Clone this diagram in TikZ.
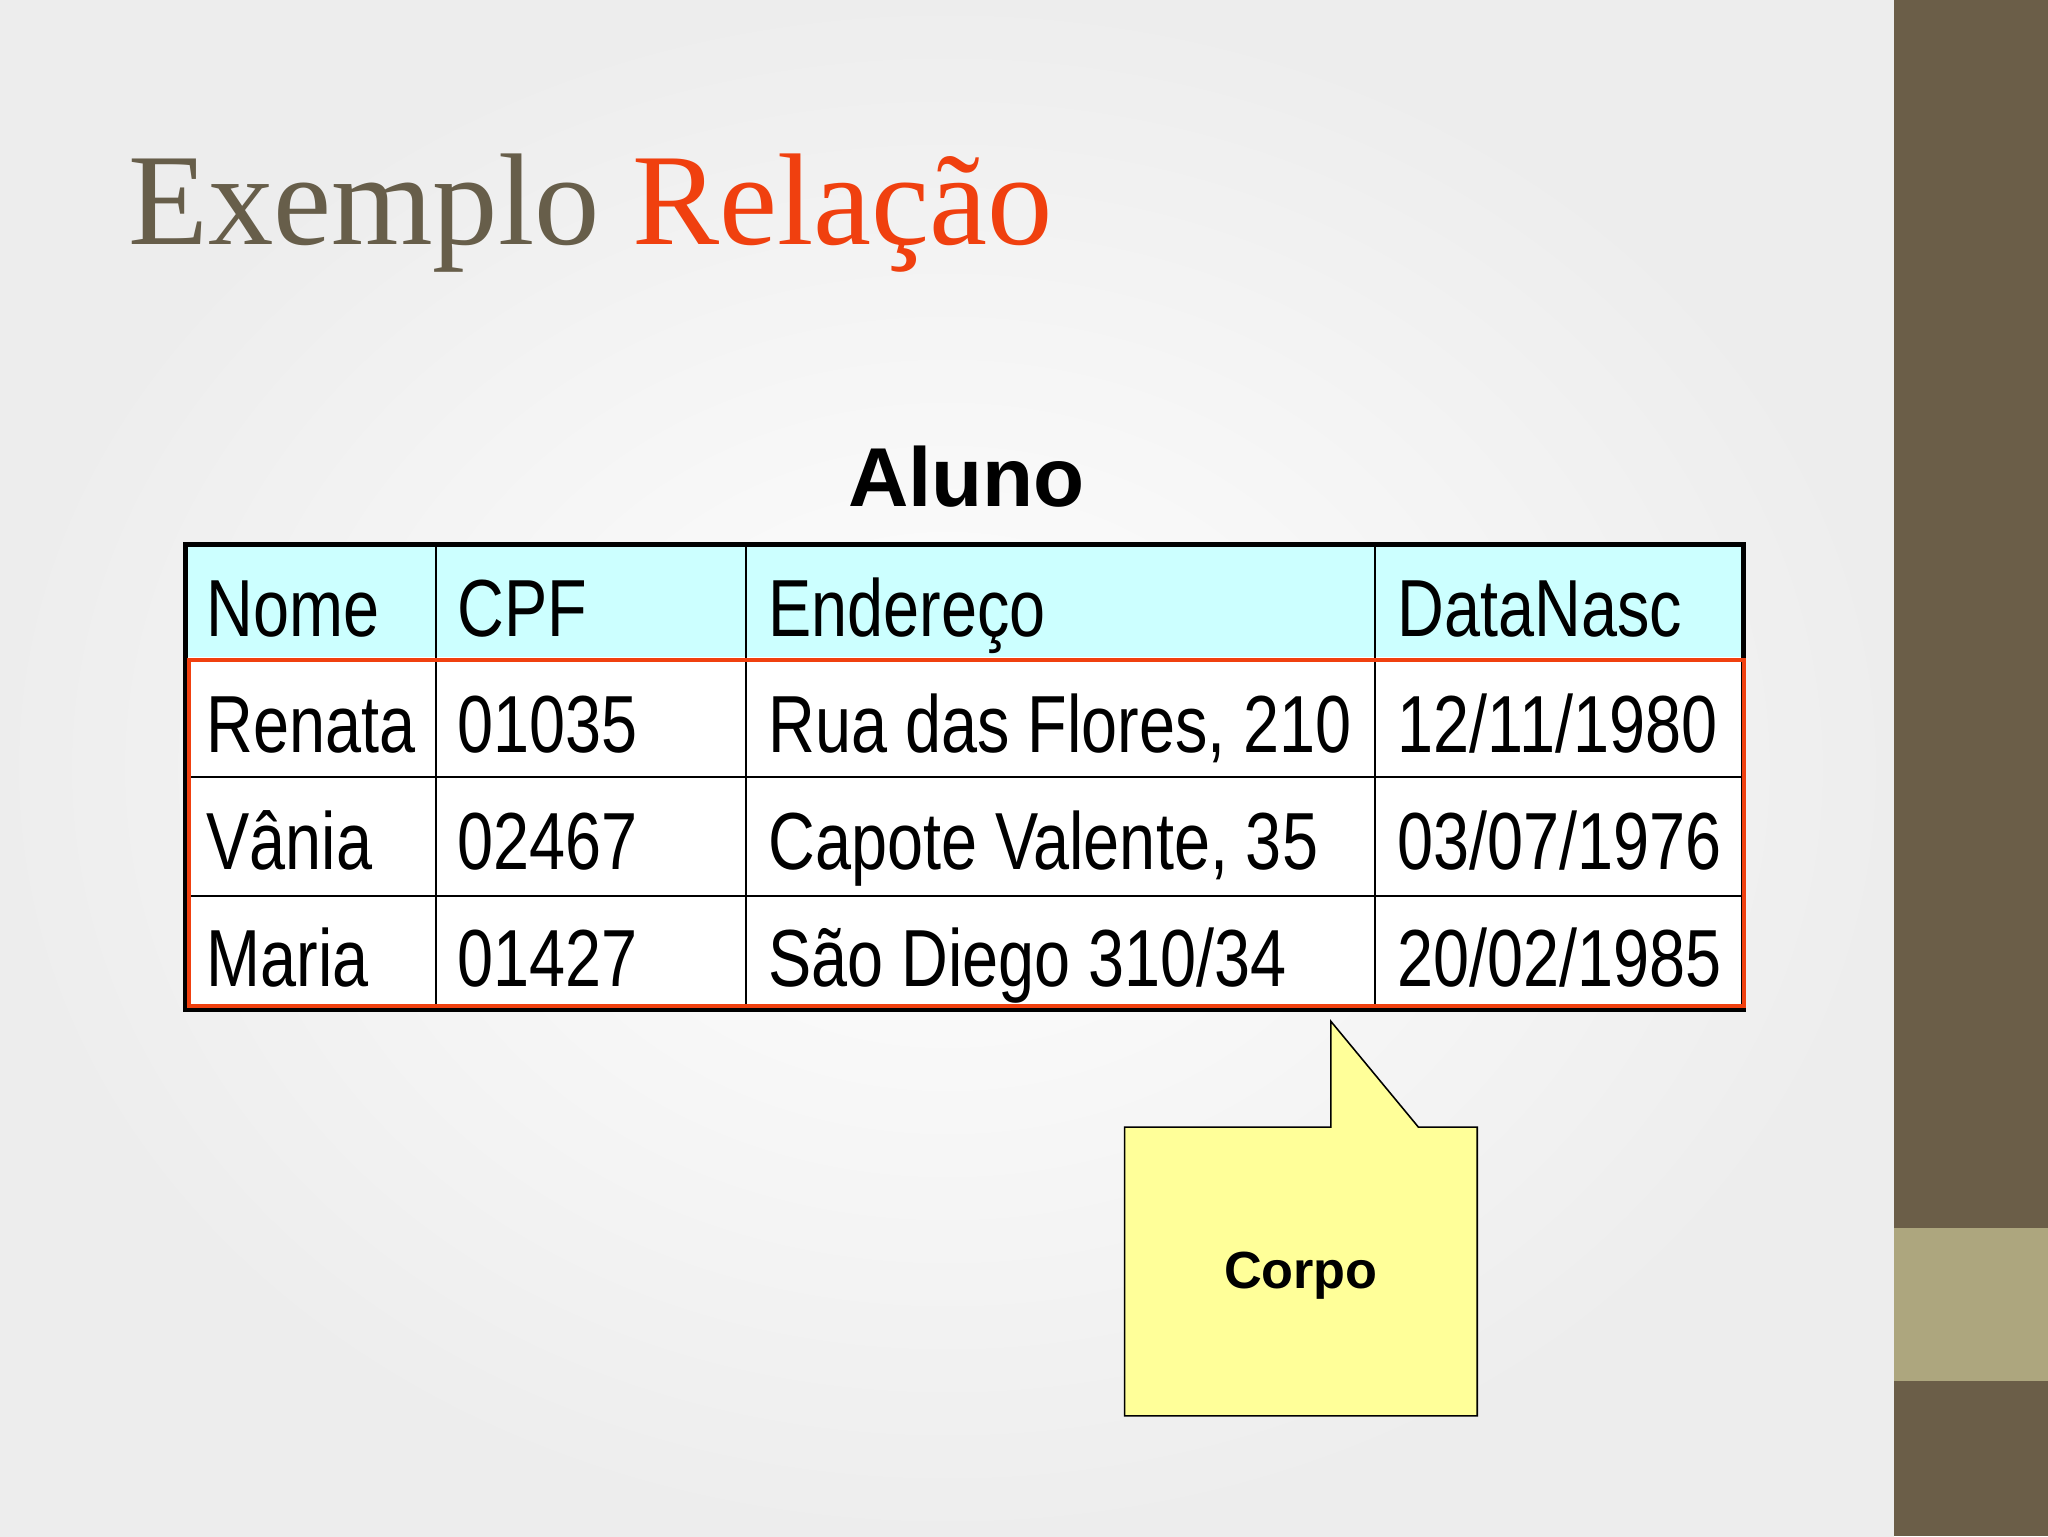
\documentclass[tikz,border=0pt]{standalone}
\usepackage{fontspec}
\setmainfont{Liberation Serif}
\newfontfamily\narrow[FakeStretch=0.8]{Liberation Sans}
\newfontfamily\arial{Liberation Sans}
\definecolor{brown}{HTML}{6B5E48}
\definecolor{tan}{HTML}{ADA67E}
\definecolor{titlegray}{HTML}{675E4A}
\definecolor{titlered}{HTML}{F0400F}
\definecolor{hdr}{HTML}{CCFFFF}
\definecolor{note}{HTML}{FFFF99}
\begin{document}
\begin{tikzpicture}[x=1pt,y=-1pt,
  cell/.style={anchor=base west,font=\narrow\fontsize{62}{70}\selectfont,inner sep=0pt},
  grid/.style={line width=1.5pt}]
\useasboundingbox (0,0) rectangle (1568,1176);
\shade[inner color=white,outer color=black!7] (0,0) rectangle (1450,1176);
\fill[brown] (1450,0) rectangle (1568,1176);
\fill[tan] (1450,940) rectangle (1568,1057);
\node[anchor=base west,inner sep=0pt,font=\fontsize{100}{110}\selectfont] (title) at (98,187) {\textcolor{titlegray}{Exemplo} \textcolor{titlered}{Relação}};
\node[font=\arial\bfseries\fontsize{64}{70}\selectfont,inner sep=0pt] (aluno) at (740,365) {Aluno};
% table
\fill[hdr] (142,417) rectangle (1335,503);
\fill[white] (142,503) rectangle (1335,773);
\foreach \y in {595,686} \draw[grid] (142,\y) -- (1335,\y);
\foreach \x in {334,571,1053} \draw[grid] (\x,417) -- (\x,773);
\draw[line width=3.5pt] (142,417) rectangle (1335,773);
\draw[titlered,line width=3pt] (145,505) rectangle (1335,770);
\foreach \t [count=\i] in {Nome,CPF,Endereço,DataNasc} {}
\node[cell] (h1) at (158,487) {Nome};
\node[cell] (h2) at (350,487) {CPF};
\node[cell] (h3) at (588,487) {Endereço};
\node[cell] (h4) at (1070,487) {DataNasc};
\node[cell] (a1) at (158,576) {Renata};
\node[cell] (a2) at (350,576) {01035};
\node[cell] (a3) at (588,576) {Rua das Flores, 210};
\node[cell] (a4) at (1070,576) {12/11/1980};
\node[cell] (b1) at (158,666) {Vânia};
\node[cell] (b2) at (350,666) {02467};
\node[cell] (b3) at (588,666) {Capote Valente, 35};
\node[cell] (b4) at (1070,666) {03/07/1976};
\node[cell] (c1) at (158,755) {Maria};
\node[cell] (c2) at (350,755) {01427};
\node[cell] (c3) at (588,755) {São Diego 310/34};
\node[cell] (c4) at (1070,755) {20/02/1985};
% callout
\draw[fill=note,line width=1.2pt] (861,863) -- (1019,863) -- (1019,782) -- (1086,863) -- (1131,863) -- (1131,1084) -- (861,1084) -- cycle;
\node[font=\arial\bfseries\fontsize{40}{46}\selectfont] (corpo) at (996,977) {Corpo};
\end{tikzpicture}
\end{document}
